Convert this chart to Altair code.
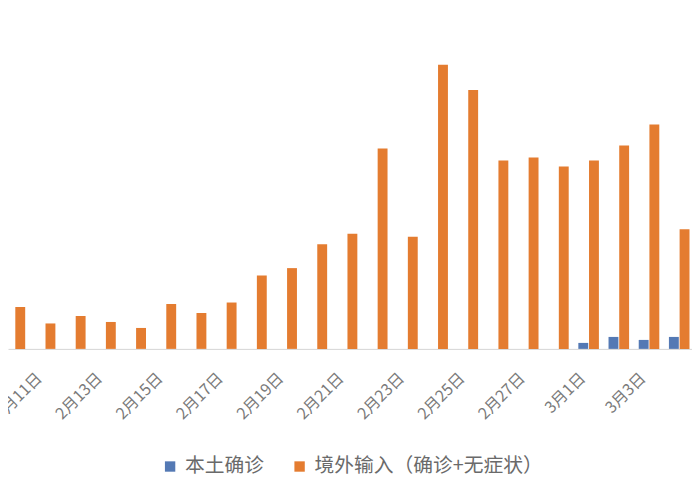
import altair as alt
import pandas as pd

# day index: 10 = 2月10日 ... 28 = 2月28日, 29 = 3月1日 ... 32 = 3月4日
days = list(range(10, 33))
local_confirmed = [0, 0, 0, 0, 0, 0, 0, 0, 0, 0, 0, 0, 0, 0, 0, 0, 0, 0, 0, 2, 4, 3, 4]
imported = [14, 8.5, 11, 9, 7, 15, 12, 15.5, 24.5, 27, 35, 38.5, 67, 37.5, 95, 86.5, 63, 64, 61, 63, 68, 75, 40]
series_names = ["本土确诊", "境外输入（确诊+无症状）"]
series_colors = ["#5479B4", "#E47C30"]
label_days = [11, 13, 15, 17, 19, 21, 23, 25, 27, 29, 31, 33]

rows = []
for d, a, b in zip(days, local_confirmed, imported):
    rows.append({"day": d, "series": series_names[0], "value": a, "k": 0})
    rows.append({"day": d, "series": series_names[1], "value": b, "k": 1})
df = pd.DataFrame(rows)

font = "Noto Sans CJK SC"

chart = (
    alt.Chart(df)
    .transform_calculate(xpos="datum.day + (datum.k == 0 ? -0.177 : 0.177)")
    .mark_bar(size=10, clip=True)
    .encode(
        x=alt.X(
            "xpos:Q",
            scale=alt.Scale(domain=[9.935, 32.26], nice=False, zero=False),
            axis=alt.Axis(
                values=label_days,
                labelExpr="datum.value <= 28 ? '2月' + datum.value + '日' : '3月' + (datum.value - 28) + '日'",
                labelAngle=-45,
                ticks=False,
                grid=False,
                domainColor="#d4d4d4",
                domainWidth=1,
                title=None,
                labelFontSize=16,
                labelFont=font,
                labelColor="#7a7a7a",
                labelPadding=21,
                labelOffset=-12,
                labelFlush=False,
                labelOverlap=False,
                labelBound=False,
            ),
        ),
        y=alt.Y("value:Q", scale=alt.Scale(domain=[0, 113], nice=False), axis=None),
        color=alt.Color(
            "series:N",
            scale=alt.Scale(domain=series_names, range=series_colors),
            legend=alt.Legend(
                orient="none",
                legendX=154,
                legendY=451,
                direction="horizontal",
                title=None,
                symbolType="square",
                symbolSize=110,
                symbolStrokeWidth=0,
                labelFontSize=20,
                labelFont=font,
                labelColor="#6a6a6a",
                labelLimit=500,
                columnPadding=26,
                labelOffset=5,
            ),
        ),
    )
    .properties(
        width=692,
        height=342,
        autosize=alt.AutoSizeParams(type="none"),
        padding={"left": 0, "top": 0, "right": 0, "bottom": 150},
    )
    .configure_view(stroke=None)
)

chart.save("out.html", embed_options={"renderer": "svg", "actions": False})
